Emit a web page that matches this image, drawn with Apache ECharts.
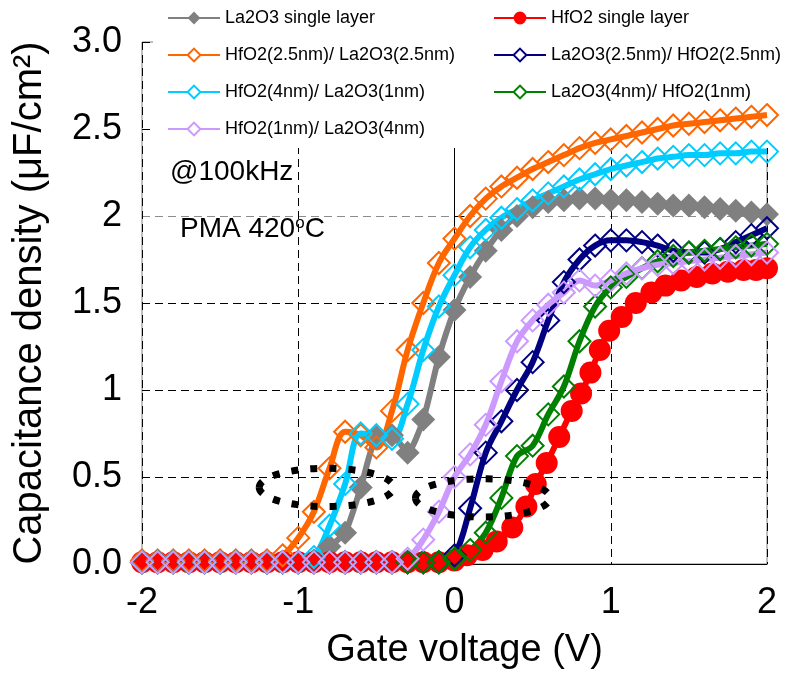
<!DOCTYPE html>
<html>
<head>
<meta charset="utf-8">
<script src="https://cdn.jsdelivr.net/npm/echarts@6/dist/echarts.min.js"></script>
<style>
  html, body { margin: 0; padding: 0; background: #ffffff; }
  #chart { width: 786px; height: 675px; }
</style>
</head>
<body>
<div id="chart"></div>
<script>
// Gate voltage sweep (V), shared by the stacked films
const voltage = [
  -2.0, -1.9, -1.8, -1.7, -1.6, -1.5, -1.4, -1.3, -1.2, -1.1,
  -1.0, -0.9, -0.8, -0.7, -0.6, -0.5, -0.4, -0.3, -0.2, -0.1,
   0.0,  0.1,  0.2,  0.3,  0.4,  0.5,  0.6,  0.7,  0.8,  0.9,
   1.0,  1.1,  1.2,  1.3,  1.4,  1.5,  1.6,  1.7,  1.8,  1.9,
   2.0
];
// HfO2 single layer was sampled more finely through its rise
const hfo2Voltage = [
  -2.0, -1.9, -1.8, -1.7, -1.6, -1.5, -1.4, -1.3, -1.2, -1.1,
  -1.0, -0.9, -0.8, -0.7, -0.6, -0.5, -0.4, -0.3, -0.2, -0.1,
   0.0,  0.08, 0.18, 0.27, 0.37, 0.46, 0.52, 0.59, 0.67, 0.75,
   0.81, 0.87, 0.93, 0.99, 1.07, 1.16, 1.26, 1.35, 1.45, 1.55,
   1.65, 1.75, 1.85, 1.93, 2.0
];

// Capacitance density (uF/cm2) for each gate stack
const la2o3Single = [
  0.01, 0.01, 0.01, 0.01, 0.01, 0.01, 0.01, 0.01, 0.01, 0.01,
  0.01, 0.02, 0.10, 0.18, 0.44, 0.73, 0.74, 0.64, 0.83, 1.19,
  1.46, 1.65, 1.80, 1.92, 2.00, 2.05, 2.08, 2.09, 2.10, 2.10,
  2.09, 2.09, 2.08, 2.07, 2.06, 2.06, 2.05, 2.04, 2.03, 2.02,
  2.01
];
const hfo2Single = [
  0.01, 0.01, 0.01, 0.01, 0.01, 0.01, 0.01, 0.01, 0.01, 0.01,
  0.01, 0.01, 0.01, 0.01, 0.01, 0.01, 0.01, 0.01, 0.01, 0.01,
  0.02, 0.05, 0.08, 0.13, 0.21, 0.33, 0.46, 0.58, 0.73, 0.88,
  0.98, 1.10, 1.23, 1.34, 1.42, 1.50, 1.56, 1.60, 1.63, 1.65,
  1.67, 1.68, 1.69, 1.69, 1.70
];
const hfo25La2o325 = [
  0.02, 0.02, 0.02, 0.02, 0.02, 0.02, 0.02, 0.02, 0.02, 0.05,
  0.15, 0.30, 0.55, 0.76, 0.74, 0.67, 0.88, 1.23, 1.50, 1.73,
  1.87, 2.00, 2.10, 2.17, 2.22, 2.27, 2.31, 2.35, 2.39, 2.42,
  2.44, 2.46, 2.48, 2.50, 2.52, 2.53, 2.54, 2.55, 2.56, 2.57,
  2.58
];
const la2o325Hfo225 = [
  0.01, 0.01, 0.01, 0.01, 0.01, 0.01, 0.01, 0.01, 0.01, 0.01,
  0.01, 0.01, 0.01, 0.01, 0.01, 0.01, 0.01, 0.01, 0.01, 0.01,
  0.05, 0.32, 0.64, 0.82, 1.00, 1.16, 1.40, 1.62, 1.75, 1.83,
  1.86, 1.86, 1.85, 1.83, 1.80, 1.79, 1.79, 1.81, 1.85, 1.89,
  1.93
];
const hfo24La2o31 = [
  0.01, 0.01, 0.01, 0.01, 0.01, 0.01, 0.01, 0.01, 0.01, 0.01,
  0.01, 0.04, 0.22, 0.46, 0.75, 0.74, 0.72, 0.92, 1.23, 1.48,
  1.66, 1.82, 1.92, 1.99, 2.04, 2.09, 2.13, 2.17, 2.21, 2.24,
  2.27, 2.29, 2.31, 2.33, 2.34, 2.35, 2.35, 2.36, 2.36, 2.37,
  2.37
];
const la2o34Hfo21 = [
  0.01, 0.01, 0.01, 0.01, 0.01, 0.01, 0.01, 0.01, 0.01, 0.01,
  0.01, 0.01, 0.01, 0.01, 0.01, 0.01, 0.01, 0.01, 0.01, 0.01,
  0.03, 0.08, 0.18, 0.38, 0.62, 0.68, 0.86, 1.02, 1.28, 1.48,
  1.59, 1.65, 1.70, 1.74, 1.77, 1.79, 1.80, 1.81, 1.82, 1.83,
  1.84
];
const hfo21La2o34 = [
  0.01, 0.01, 0.01, 0.01, 0.01, 0.01, 0.01, 0.01, 0.01, 0.01,
  0.01, 0.01, 0.01, 0.01, 0.01, 0.01, 0.01, 0.03, 0.14, 0.30,
  0.50, 0.63, 0.80, 1.05, 1.28, 1.40, 1.49, 1.56, 1.63, 1.60,
  1.63, 1.67, 1.70, 1.72, 1.73, 1.74, 1.75, 1.76, 1.77, 1.78,
  1.79
];

const seriesNames = [
  'La2O3 single layer',
  'HfO2 single layer',
  'HfO2(2.5nm)/ La2O3(2.5nm)',
  'La2O3(2.5nm)/ HfO2(2.5nm)',
  'HfO2(4nm)/ La2O3(1nm)',
  'La2O3(4nm)/ HfO2(1nm)',
  'HfO2(1nm)/ La2O3(4nm)'
];
const seriesVoltages = [
  voltage, hfo2Voltage, voltage, voltage, voltage, voltage, voltage
];
const seriesValues = [
  la2o3Single, hfo2Single, hfo25La2o325, la2o325Hfo225,
  hfo24La2o31, la2o34Hfo21, hfo21La2o34
];

const xTickLabels = ['-2', '-1', '0', '1', '2'];
const yTickLabels = ['0.0', '0.5', '1', '1.5', '2', '2.5', '3.0'];

const FONT = 'Liberation Sans, Arial, sans-serif';

// marker / line look per stack
const looks = [
  { color: '#808080', symbol: 'diamond', size: 24, filled: true,  smooth: 0.2 },
  { color: '#ff0000', symbol: 'circle',  size: 22, filled: true,  smooth: 0.35 },
  { color: '#ff6600', symbol: 'diamond', size: 22, filled: false, smooth: 0.35 },
  { color: '#000080', symbol: 'diamond', size: 22, filled: false, smooth: 0.35 },
  { color: '#00ccff', symbol: 'diamond', size: 22, filled: false, smooth: 0.35 },
  { color: '#008000', symbol: 'diamond', size: 22, filled: false, smooth: 0.35 },
  { color: '#cc99ff', symbol: 'diamond', size: 22, filled: false, smooth: 0.35 }
];

const series = seriesNames.map((name, i) => {
  const lk = looks[i];
  const xs = seriesVoltages[i];
  return {
    name: name,
    type: 'line',
    data: xs.map((v, k) => [v, seriesValues[i][k]]),
    smooth: lk.smooth,
    symbol: lk.symbol,
    symbolSize: lk.size,
    clip: false,
    lineStyle: { color: lk.color, width: 6 },
    itemStyle: lk.filled
      ? { color: lk.color, borderWidth: 0 }
      : { color: 'rgba(0,0,0,0)', borderColor: lk.color, borderWidth: 2 },
    emphasis: { disabled: true },
    z: 2
  };
});

function legendItems(idx) {
  return idx.map(i => looks[i].filled
    ? { name: seriesNames[i] }
    : { name: seriesNames[i], itemStyle: { color: '#ffffff', borderColor: looks[i].color, borderWidth: 2 } });
}

const legendCommon = {
  orient: 'vertical',
  selectedMode: false,
  itemWidth: 52,
  itemHeight: 16,
  itemGap: 17,
  padding: 0,
  textStyle: { fontSize: 18, fontFamily: FONT, color: '#000', lineHeight: 20 }
};

const chart = echarts.init(document.getElementById('chart'), null, { renderer: 'canvas' });

const option = {
  animation: false,
  backgroundColor: '#ffffff',
  textStyle: { fontFamily: FONT },
  grid: {
    left: 142, top: 42, width: 625, height: 522,
    outerBoundsMode: 'none',
    containLabel: false,
    show: true, borderColor: '#808080', borderWidth: 1
  },
  legend: [
    Object.assign({}, legendCommon, { left: 167, top: 8, data: legendItems([0, 2, 4, 6]) }),
    Object.assign({}, legendCommon, { left: 493, top: 8, data: legendItems([1, 3, 5]) })
  ],
  xAxis: {
    type: 'value', min: -2, max: 2, interval: 1,
    axisLine: { show: true, onZero: false, lineStyle: { color: '#000', width: 1 } },
    axisTick: { show: false },
    axisLabel: {
      fontSize: 36, color: '#000', fontFamily: FONT, margin: 21,
      formatter: v => xTickLabels[Math.round(v + 2)]
    },
    splitLine: { show: true, lineStyle: { color: '#000', width: 1, type: [8, 5] } },
    name: 'Gate voltage (V)',
    nameLocation: 'middle',
    nameGap: 68,
    nameTextStyle: { fontSize: 38, color: '#000', fontFamily: FONT, padding: [0, 0, 0, 20] }
  },
  yAxis: {
    type: 'value', min: 0, max: 3, interval: 0.5,
    axisLine: { show: true, lineStyle: { color: '#000', width: 1 } },
    axisTick: { show: true, inside: true, length: 10, lineStyle: { color: '#000' } },
    axisLabel: {
      fontSize: 36, color: '#000', fontFamily: FONT, margin: 20,
      padding: [0, 0, 8, 0],
      formatter: v => yTickLabels[Math.round(v / 0.5)]
    },
    splitLine: {
      show: true,
      lineStyle: {
        color: ['#000', '#000', '#000', '#000', '#8c8c8c', '#000', '#000'],
        width: 1, type: [8, 5]
      }
    },
    name: 'Capacitance density (\u03bcF/cm\u00b2)',
    nameLocation: 'middle',
    nameRotate: 90,
    nameGap: 92,
    nameTextStyle: { fontSize: 40, color: '#000', fontFamily: FONT }
  },
  series: series
};

chart.setOption(option);

// Dotted rings marking the shoulders, placed in data units
const rings = [
  { v: -0.82, c: 0.44 },
  { v: 0.18, c: 0.38 }
];
const ringHalfV = 0.43;
const ringHalfC = 0.11;

const ringShapes = rings.map(r => {
  const ctr = chart.convertToPixel({ xAxisIndex: 0, yAxisIndex: 0 }, [r.v, r.c]);
  const edge = chart.convertToPixel({ xAxisIndex: 0, yAxisIndex: 0 }, [r.v + ringHalfV, r.c + ringHalfC]);
  return {
    type: 'ellipse',
    z: 10,
    silent: true,
    shape: { cx: ctr[0], cy: ctr[1], rx: Math.abs(edge[0] - ctr[0]), ry: Math.abs(edge[1] - ctr[1]) },
    style: { fill: 'none', stroke: '#000', lineWidth: 7, lineDash: [7, 12] }
  };
});

chart.setOption({
  graphic: [
    {
      type: 'rect', z: 1, silent: true,
      shape: { x: 153, y: 0, width: 640, height: 148 },
      style: { fill: '#ffffff' }
    },
    {
      type: 'text', z: 5, silent: true,
      style: {
        x: 170, y: 172, text: '@100kHz', fill: '#000',
        font: '28px ' + FONT, align: 'left', verticalAlign: 'middle'
      }
    },
    {
      type: 'text', z: 5, silent: true,
      style: {
        x: 180, y: 229, text: 'PMA 420{sup|o}C', fill: '#000',
        font: '28px ' + FONT, align: 'left', verticalAlign: 'middle',
        rich: {
          sup: { fontSize: 17, fontFamily: FONT, verticalAlign: 'top', lineHeight: 28 }
        }
      }
    }
  ].concat(ringShapes)
});
</script>
</body>
</html>
